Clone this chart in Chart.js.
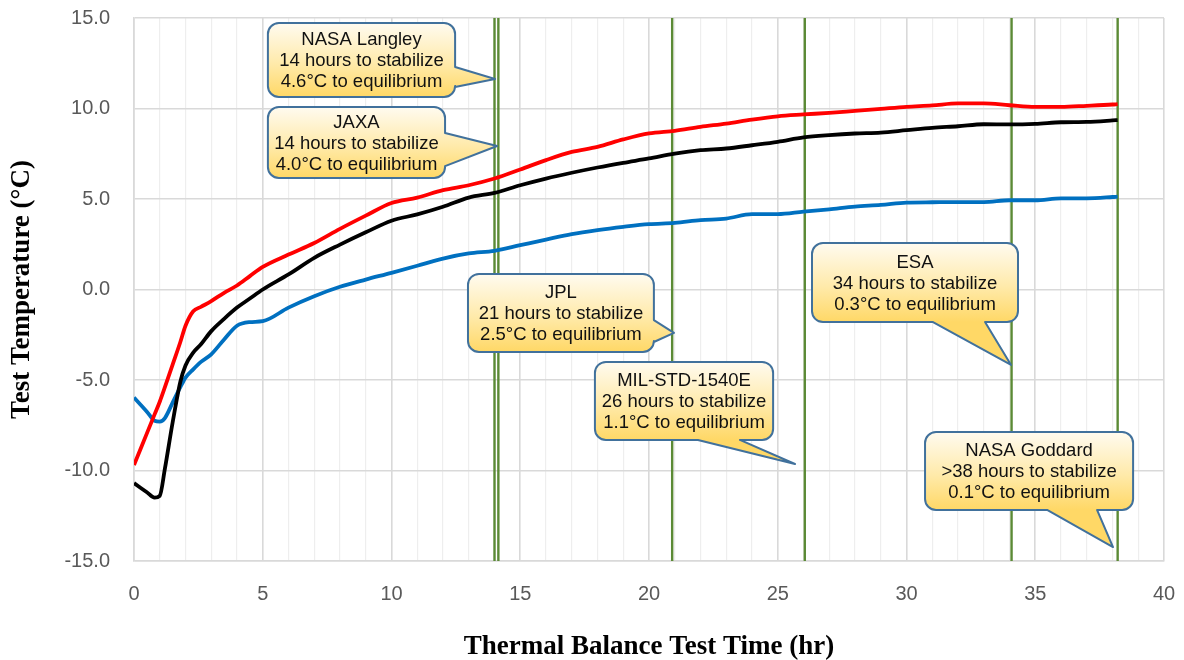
<!DOCTYPE html>
<html><head><meta charset="utf-8">
<script src="https://cdn.jsdelivr.net/npm/chart.js@4.4.0/dist/chart.umd.min.js"></script>
<style>html,body{margin:0;padding:0;background:#fff;}#wrap{width:1184px;height:660px;}</style>
</head><body><div id="wrap"><canvas id="c" width="1184" height="660"></canvas></div>
<script>
// ---- data ----
const times = [0,0.5,0.8,1,1.2,1.5,1.8,2,2.3,2.6,3,3.5,4,4.5,5,6,7,8,9,10,11,12,13,14,15,16,17,18,19,20,21,22,23,24,25,26,27,28,29,30,31,32,33,34,35,36,37,38,38.2];
const redSeries = [-9.7,-7.95,-6.9,-6.2,-5.4,-4.15,-2.9,-2.0,-1.2,-0.96,-0.64,-0.18,0.22,0.74,1.25,1.93,2.57,3.35,4.08,4.78,5.08,5.49,5.76,6.13,6.63,7.15,7.6,7.88,8.29,8.62,8.77,8.99,9.17,9.39,9.57,9.67,9.76,9.87,9.98,10.09,10.17,10.28,10.28,10.18,10.09,10.09,10.15,10.22,10.24];
const blackSeries = [-10.7,-11.2,-11.5,-11.4,-9.9,-7.35,-5.1,-4.2,-3.49,-3.03,-2.3,-1.62,-1.0,-0.5,0.0,0.83,1.75,2.48,3.16,3.8,4.15,4.57,5.08,5.34,5.76,6.13,6.45,6.74,7.0,7.24,7.51,7.7,7.79,7.97,8.16,8.4,8.53,8.62,8.67,8.8,8.93,9.02,9.13,9.12,9.15,9.24,9.26,9.34,9.36];
const blueSeries = [-5.97,-6.75,-7.25,-7.3,-7.1,-6.25,-5.4,-4.87,-4.41,-4.0,-3.58,-2.76,-2.0,-1.8,-1.75,-1.0,-0.37,0.15,0.55,0.92,1.31,1.71,1.99,2.14,2.45,2.76,3.06,3.28,3.46,3.61,3.68,3.83,3.92,4.16,4.16,4.3,4.43,4.58,4.67,4.8,4.82,4.83,4.83,4.93,4.93,5.04,5.04,5.11,5.13];
const markerTimes = [14.0, 14.15, 20.9, 26.05, 34.08, 38.2];
const xTickLabels = [0,5,10,15,20,25,30,35,40];
const yTickLabels = ['-15.0','-10.0','-5.0','0.0','5.0','10.0','15.0'];
const calloutTitles = ['NASA Langley','JAXA','JPL','MIL-STD-1540E','ESA','NASA Goddard'];
const calloutHours = ['14 hours to stabilize','14 hours to stabilize','21 hours to stabilize','26 hours to stabilize','34 hours to stabilize','>38 hours to stabilize'];
const calloutDeltas = ['4.6°C to equilibrium','4.0°C to equilibrium','2.5°C to equilibrium','1.1°C to equilibrium','0.3°C to equilibrium','0.1°C to equilibrium'];

// ---- callout geometry (data coordinates) ----
const calloutGeom = [
  {l:5.2, r:12.47, t:14.72, b:10.64, edge:'right', base:[12.29,11.19], tip:[14.02,11.63]},
  {l:5.2, r:12.08, t:10.08, b:6.16, edge:'right', base:[8.65,6.82], tip:[14.1,7.93]},
  {l:12.97, r:20.19, t:0.86, b:-3.45, edge:'right', base:[-1.69,-2.9], tip:[20.97,-2.4]},
  {l:17.9, r:24.82, t:-4.0, b:-8.31, edge:'bottom', base:[23.53,21.9], tip:[25.67,-9.64]},
  {l:26.33, r:34.33, t:2.57, b:-1.8, edge:'bottom', base:[33.05,31.03], tip:[34.06,-4.17]},
  {l:30.72, r:38.8, t:-7.87, b:-12.18, edge:'bottom', base:[37.4,35.46], tip:[38.02,-14.23]}
];

const yMin = -15, yMax = 15;
const pts = arr => times.map((t,i)=>({x:t,y:arr[i]}));

const datasets = [
  {label:'Red', data:pts(redSeries), borderColor:'#FF0000', borderWidth:3.8, order:0},
  {label:'Black', data:pts(blackSeries), borderColor:'#000000', borderWidth:3.8, order:1},
  {label:'Blue', data:pts(blueSeries), borderColor:'#0070C0', borderWidth:3.8, order:2}
].map(d=>Object.assign(d,{pointRadius:0, cubicInterpolationMode:'monotone', fill:false}));
markerTimes.forEach((t,i)=>datasets.push({label:'m'+i, data:[{x:t,y:yMin},{x:t,y:yMax}], borderColor:'#5B8A35', borderWidth:2.4, pointRadius:0, order:5, tension:0}));

function calloutPath(ctx, g, xs, ys){
  const L=xs(g.l), R=xs(g.r), T=ys(g.t), B=ys(g.b), rad=11;
  ctx.beginPath();
  ctx.moveTo(L+rad,T);
  ctx.lineTo(R-rad,T);
  ctx.arcTo(R,T,R,T+rad,rad);
  if(g.edge==='right'){
    ctx.lineTo(R, ys(g.base[0]));
    ctx.lineTo(xs(g.tip[0]), ys(g.tip[1]));
    ctx.lineTo(R, ys(g.base[1]));
  }
  ctx.lineTo(R,B-rad);
  ctx.arcTo(R,B,R-rad,B,rad);
  if(g.edge==='bottom'){
    ctx.lineTo(xs(g.base[0]), B);
    ctx.lineTo(xs(g.tip[0]), ys(g.tip[1]));
    ctx.lineTo(xs(g.base[1]), B);
  }
  ctx.lineTo(L+rad,B);
  ctx.arcTo(L,B,L,B-rad,rad);
  ctx.lineTo(L,T+rad);
  ctx.arcTo(L,T,L+rad,T,rad);
  ctx.closePath();
  return {L,R,T,B};
}

const calloutPlugin = {
  id:'callouts',
  afterDatasetsDraw(chart){
    const ctx = chart.ctx, sx = chart.scales.x, sy = chart.scales.y;
    const xs = v=>sx.getPixelForValue(v), ys = v=>sy.getPixelForValue(v);
    calloutGeom.forEach((g,i)=>{
      ctx.save();
      const box = calloutPath(ctx,g,xs,ys);
      const grad = ctx.createLinearGradient(0, box.T, 0, box.B);
      grad.addColorStop(0,'#FFFBF0');
      grad.addColorStop(0.55,'#FFEAAA');
      grad.addColorStop(1,'#FFD866');
      ctx.fillStyle = grad;
      ctx.fill();
      ctx.lineWidth = 2;
      ctx.strokeStyle = '#41719C';
      ctx.lineJoin = 'round';
      ctx.stroke();
      ctx.fillStyle = '#111';
      ctx.font = '18.5px "Liberation Sans", Arial, sans-serif';
      ctx.textAlign = 'center';
      ctx.textBaseline = 'middle';
      const cx = (box.L+box.R)/2, cy = (box.T+box.B)/2 + 1;
      ctx.fillText(calloutTitles[i], cx, cy-21);
      ctx.fillText(calloutHours[i], cx, cy);
      ctx.fillText(calloutDeltas[i], cx, cy+21);
      ctx.restore();
    });
  }
};

const gridColor = c => (c.tick && Math.abs(c.tick.value % 5) < 1e-9) ? '#D9D9D9' : '#EEEEEE';
const gridWidth = c => (c.tick && Math.abs(c.tick.value % 5) < 1e-9) ? 1.6 : 1.2;

new Chart(document.getElementById('c'), {
  type:'line',
  data:{datasets},
  plugins:[calloutPlugin],
  options:{
    responsive:false, animation:false, devicePixelRatio:1,
    layout:{padding:{top:18,right:20,bottom:0,left:0}},
    plugins:{legend:{display:false}, tooltip:{enabled:false}},
    scales:{
      x:{type:'linear', min:0, max:40,
        afterFit(s){ s.height = 99; s.paddingLeft = 0; s.paddingRight = 0; s.paddingTop = 0; s.paddingBottom = 0; },
        grid:{color:gridColor, lineWidth:gridWidth, drawTicks:false, tickLength:0},
        border:{display:true, color:'#D9D9D9', width:1.6},
        ticks:{stepSize:1, autoSkip:false, maxRotation:0, padding:21, color:'#595959',
          font:{family:'"Liberation Sans", Arial, sans-serif', size:20},
          callback:v=> xTickLabels.includes(v) ? String(v) : ''},
        title:{display:true, text:'Thermal Balance Test Time (hr)', color:'#000',
          font:{family:'"Liberation Serif", "Times New Roman", serif', size:27, weight:'bold'},
          padding:{top:0,bottom:-3}}
      },
      y:{type:'linear', min:yMin, max:yMax,
        afterFit(s){ s.width = 134; s.paddingLeft = 0; s.paddingRight = 0; s.paddingTop = 0; s.paddingBottom = 0; },
        grid:{color:'#D9D9D9', lineWidth:1.6, drawTicks:false, tickLength:0},
        border:{display:true, color:'#D9D9D9', width:1.6},
        ticks:{stepSize:5, padding:24, color:'#595959',
          font:{family:'"Liberation Sans", Arial, sans-serif', size:20},
          callback:v=> yTickLabels[Math.round((v-yMin)/5)]},
        title:{display:true, text:'Test Temperature (°C)', color:'#000',
          font:{family:'"Liberation Serif", "Times New Roman", serif', size:27, weight:'bold'},
          padding:{top:6,bottom:0}}
      }
    }
  }
});
</script></body></html>
